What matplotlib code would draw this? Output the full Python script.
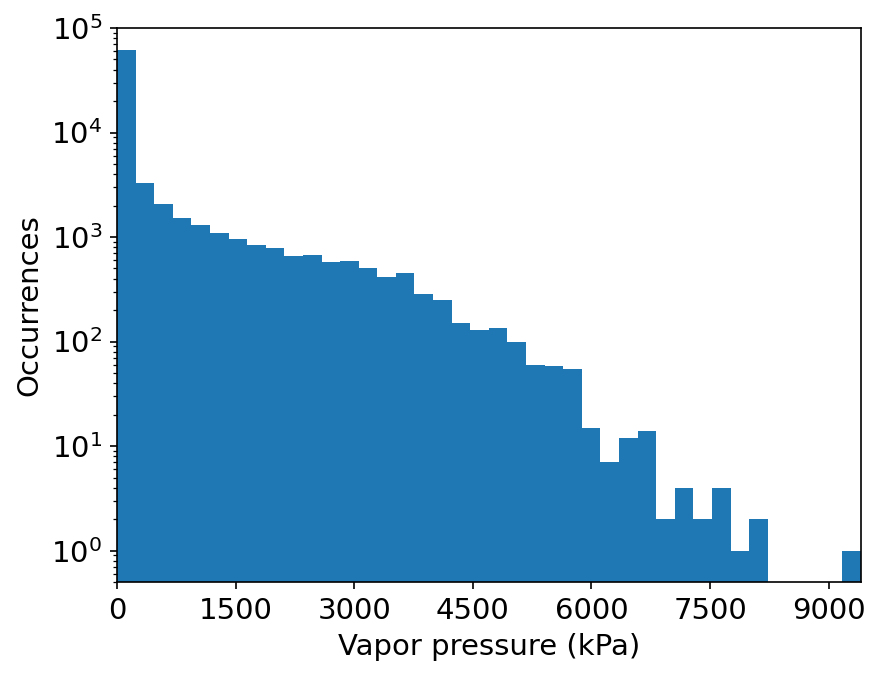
import numpy as np
import matplotlib
matplotlib.use("Agg")
import matplotlib.pyplot as plt

# histogram counts per bin (40 equal bins, 0 .. max vapor pressure)
vp_max = 9405
counts = [62000, 3280, 2060, 1510, 1295, 1085, 950, 830, 780, 654,
          668, 572, 585, 500, 410, 449, 282, 252, 152, 130,
          136, 100, 59, 58, 55, 15, 7, 12, 14, 2,
          4, 2, 4, 1, 2, 0, 0, 0, 0, 1]
xticks = [0, 1500, 3000, 4500, 6000, 7500, 9000]

edges = np.linspace(0, vp_max, len(counts) + 1)

plt.rcParams['font.size'] = 14
fig = plt.figure(figsize=(880 / 150, 676 / 150), dpi=150)
ax = fig.add_axes([0.133, 0.139, 0.845, 0.8196])

ax.hist(edges[:-1], bins=edges, weights=counts, log=True, color='C0')
ax.set_xlim(0, vp_max)
ax.set_ylim(0.5, 1e5)
ax.set_xticks(xticks)
ax.set_xlabel('Vapor pressure (kPa)')
ax.set_ylabel('Occurrences')

fig.savefig('out.png', dpi=150)
